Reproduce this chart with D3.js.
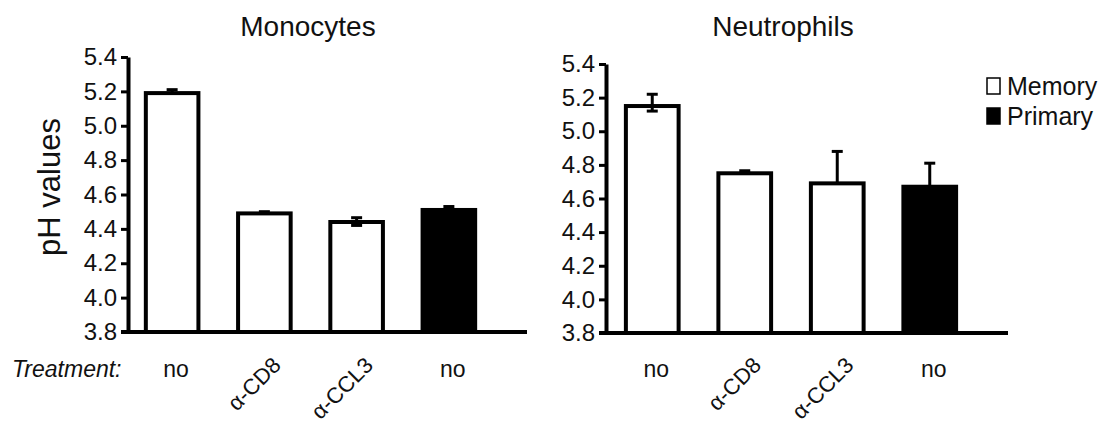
<!DOCTYPE html>
<html><head><meta charset="utf-8">
<script src="https://cdn.jsdelivr.net/npm/d3@7"></script>
<style>
html,body{margin:0;padding:0;background:#fff;}
text{font-family:"Liberation Sans",Arial,sans-serif;fill:#111;}
</style></head>
<body><svg id="c" width="1106" height="423"></svg>
<script>
const categories = ["no", "α-CD8", "α-CCL3", "no"];
const groups = ["Memory", "Memory", "Memory", "Primary"];
const monoValues = [5.19, 4.49, 4.44, 4.51];
const monoErrUp = [0.02, 0.01, 0.025, 0.02];
const monoErrDown = [0, 0, 0.02, 0];
const neutValues = [5.15, 4.75, 4.69, 4.67];
const neutErrUp = [0.07, 0.015, 0.19, 0.14];
const neutErrDown = [0.03, 0, 0, 0];
const yTicks = [3.8, 4.0, 4.2, 4.4, 4.6, 4.8, 5.0, 5.2, 5.4];
const legendItems = ["Memory", "Primary"];
const fills = {Memory: "#fff", Primary: "#000"};

const svg = d3.select("#c");

function panel(cfg) {
  const g = svg.append("g");
  const y = d3.scaleLinear().domain([3.8, 5.4]).range([cfg.yBottom, cfg.yTop]);
  const x = d3.scaleBand().domain(d3.range(categories.length)).range(cfg.xRange).paddingInner(0.43).paddingOuter(0.215);
  g.selectAll("rect.bar").data(cfg.values).join("rect")
    .attr("x", (d, i) => x(i)).attr("width", x.bandwidth())
    .attr("y", d => y(d)).attr("height", d => y(3.8) - y(d))
    .attr("fill", (d, i) => fills[groups[i]]).attr("stroke", "#000").attr("stroke-width", 4);
  const capW = 11;
  cfg.values.forEach((v, i) => {
    const cx = x(i) + x.bandwidth() / 2;
    const up = cfg.errUp[i], dn = cfg.errDown[i];
    g.append("line").attr("x1", cx).attr("x2", cx).attr("y1", y(v + up)).attr("y2", y(v))
      .attr("stroke", "#000").attr("stroke-width", 3);
    g.append("line").attr("x1", cx - capW / 2).attr("x2", cx + capW / 2).attr("y1", y(v + up)).attr("y2", y(v + up))
      .attr("stroke", "#000").attr("stroke-width", 3);
    if (dn > 0) {
      g.append("line").attr("x1", cx).attr("x2", cx).attr("y1", y(v)).attr("y2", y(v - dn))
        .attr("stroke", "#000").attr("stroke-width", 3);
      g.append("line").attr("x1", cx - capW / 2).attr("x2", cx + capW / 2).attr("y1", y(v - dn)).attr("y2", y(v - dn))
        .attr("stroke", "#000").attr("stroke-width", 3);
    }
  });
  const ax = g.append("g").attr("transform", `translate(${cfg.xAxis},0)`)
    .call(d3.axisLeft(y).tickValues(yTicks).tickFormat(d3.format(".1f")).tickSize(7).tickSizeOuter(0).tickPadding(4));
  ax.select(".domain").attr("stroke", "#000").attr("stroke-width", 4);
  ax.selectAll(".tick line").attr("stroke", "#000").attr("stroke-width", 3);
  ax.selectAll(".tick text").style("font-size", "24px").attr("fill", "#111");
  g.append("line").attr("x1", cfg.xAxis - 7).attr("x2", cfg.xEnd).attr("y1", y(3.8)).attr("y2", y(3.8))
    .attr("stroke", "#000").attr("stroke-width", 4);
  g.append("text").attr("x", cfg.titleX).attr("y", 36).attr("text-anchor", "middle")
    .style("font-size", "28px").text(cfg.title);
  categories.forEach((c, i) => {
    const cx = x(i) + x.bandwidth() / 2;
    if (c === "no") {
      g.append("text").attr("x", cx + 4).attr("y", cfg.labelY).attr("text-anchor", "middle")
        .style("font-size", "23px").text(c);
    } else {
      g.append("text").attr("transform", `translate(${cx + 6},${cfg.labelY - 22}) rotate(-45)`)
        .attr("text-anchor", "end").attr("dy", "0.75em")
        .style("font-size", "22px").text(c);
    }
  });
  return g;
}

panel({values: monoValues, errUp: monoErrUp, errDown: monoErrDown, yTop: 57, yBottom: 332, xAxis: 128, xEnd: 527,
  xRange: [126, 495], title: "Monocytes", titleX: 308, labelY: 377});
panel({values: neutValues, errUp: neutErrUp, errDown: neutErrDown, yTop: 64, yBottom: 333, xAxis: 606, xEnd: 1008,
  xRange: [606, 976], title: "Neutrophils", titleX: 783, labelY: 377});

svg.append("text").attr("transform", "translate(60,187) rotate(-90)").attr("text-anchor", "middle")
  .style("font-size", "31px").text("pH values");
svg.append("text").attr("x", 12).attr("y", 377).style("font-size", "23px").style("font-style", "italic").text("Treatment:");

const leg = svg.append("g");
legendItems.forEach((k, i) => {
  const yy = 86 + i * 30;
  leg.append("rect").attr("x", 987).attr("y", yy - 8).attr("width", 13).attr("height", 16)
    .attr("fill", fills[k]).attr("stroke", "#000").attr("stroke-width", 1.5);
  leg.append("text").attr("x", 1007).attr("y", yy + 9).style("font-size", "25px").text(k);
});
</script></body></html>
